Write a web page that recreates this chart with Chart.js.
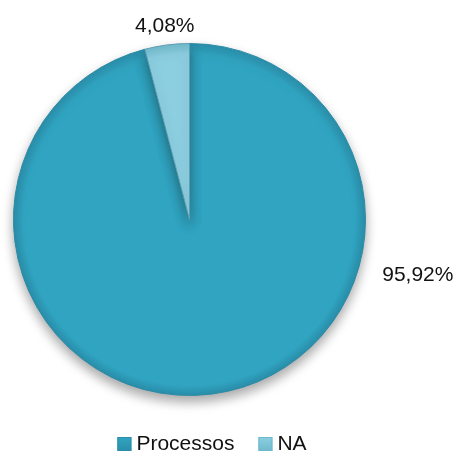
<!DOCTYPE html>
<html>
<head>
<meta charset="utf-8">
<script src="https://cdn.jsdelivr.net/npm/chart.js@4.4.0/dist/chart.umd.min.js"></script>
<style>
  html, body { margin: 0; padding: 0; background: #fff; }
  #wrap { width: 464px; height: 455px; position: relative; }
</style>
</head>
<body>
<div id="wrap"><canvas id="pieChart" width="464" height="455"></canvas></div>
<script>
const categories = ["Processos", "NA"];
const values = [95.92, 4.08];
const valueLabels = ["95,92%", "4,08%"];

const baseColors = ["#30a4c1", "#8ccfe1"];
const edgeColors = ["#2a8eaa", "#6fb9cd"];
// where each data label sits: angle (deg, 0 = 3 o'clock) and distance from centre
const labelPos = [
  { angle: 13.7, dist: 235 },
  { angle: -97.3, dist: 195 },
];
const font = "'Liberation Sans', Arial, sans-serif";

const sliceFill = (ctx) => {
  const i = ctx.dataIndex || 0;
  const area = ctx.chart.chartArea;
  if (!area || !isFinite(area.width) || area.width <= 0) return baseColors[i];
  const cx = (area.left + area.right) / 2;
  const cy = (area.top + area.bottom) / 2;
  const r = Math.min(area.width, area.height) / 2;
  const g = ctx.chart.ctx.createRadialGradient(cx, cy, 0, cx, cy, r);
  g.addColorStop(0, baseColors[i]);
  g.addColorStop(0.94, baseColors[i]);
  g.addColorStop(1, edgeColors[i]);
  return g;
};

const shadowPlugin = {
  id: "shadow",
  beforeDatasetsDraw(chart) {
    const c = chart.ctx;
    c.save();
    c.shadowColor = "rgba(0,0,0,0.35)";
    c.shadowBlur = 12;
    c.shadowOffsetY = 6;
  },
  afterDatasetsDraw(chart) {
    chart.ctx.restore();
  },
};

const labelPlugin = {
  id: "labels",
  afterDraw(chart) {
    const c = chart.ctx;
    const arc = chart.getDatasetMeta(0).data[0];
    c.save();
    c.fillStyle = "#111";
    c.font = "21px " + font;
    c.textAlign = "center";
    c.textBaseline = "middle";
    valueLabels.forEach((t, i) => {
      const a = labelPos[i].angle * Math.PI / 180;
      c.fillText(t, arc.x + Math.cos(a) * labelPos[i].dist, arc.y + Math.sin(a) * labelPos[i].dist);
    });

    // legend row at the bottom
    c.font = "21px " + font;
    c.textAlign = "left";
    const box = 14, gapBox = 5, gapItem = 24;
    let total = 0;
    categories.forEach((n, i) => {
      total += box + gapBox + c.measureText(n).width + (i < categories.length - 1 ? gapItem : 0);
    });
    let x = 212 - total / 2;
    const y = 444;
    categories.forEach((n, i) => {
      const g = c.createLinearGradient(x, y - box / 2, x, y + box / 2);
      g.addColorStop(0, baseColors[i]);
      g.addColorStop(1, edgeColors[i]);
      c.fillStyle = g;
      c.fillRect(x, y - box / 2, box, box);
      c.strokeStyle = edgeColors[i];
      c.lineWidth = 1;
      c.strokeRect(x + 0.5, y - box / 2 + 0.5, box - 1, box - 1);
      x += box + gapBox;
      c.fillStyle = "#111";
      c.fillText(n, x, y);
      x += c.measureText(n).width + gapItem;
    });
    c.restore();
  },
};

new Chart(document.getElementById("pieChart"), {
  type: "pie",
  data: {
    labels: categories,
    datasets: [
      {
        data: values,
        backgroundColor: sliceFill,
        borderColor: ["#2a8ba6", "#5e9fb2"],
        borderWidth: 1,
      },
    ],
  },
  options: {
    responsive: false,
    animation: false,
    layout: { padding: { left: 13, top: 43, right: 98, bottom: 59 } },
    plugins: {
      legend: { display: false },
      tooltip: { enabled: false },
    },
  },
  plugins: [shadowPlugin, labelPlugin],
});
</script>
</body>
</html>
